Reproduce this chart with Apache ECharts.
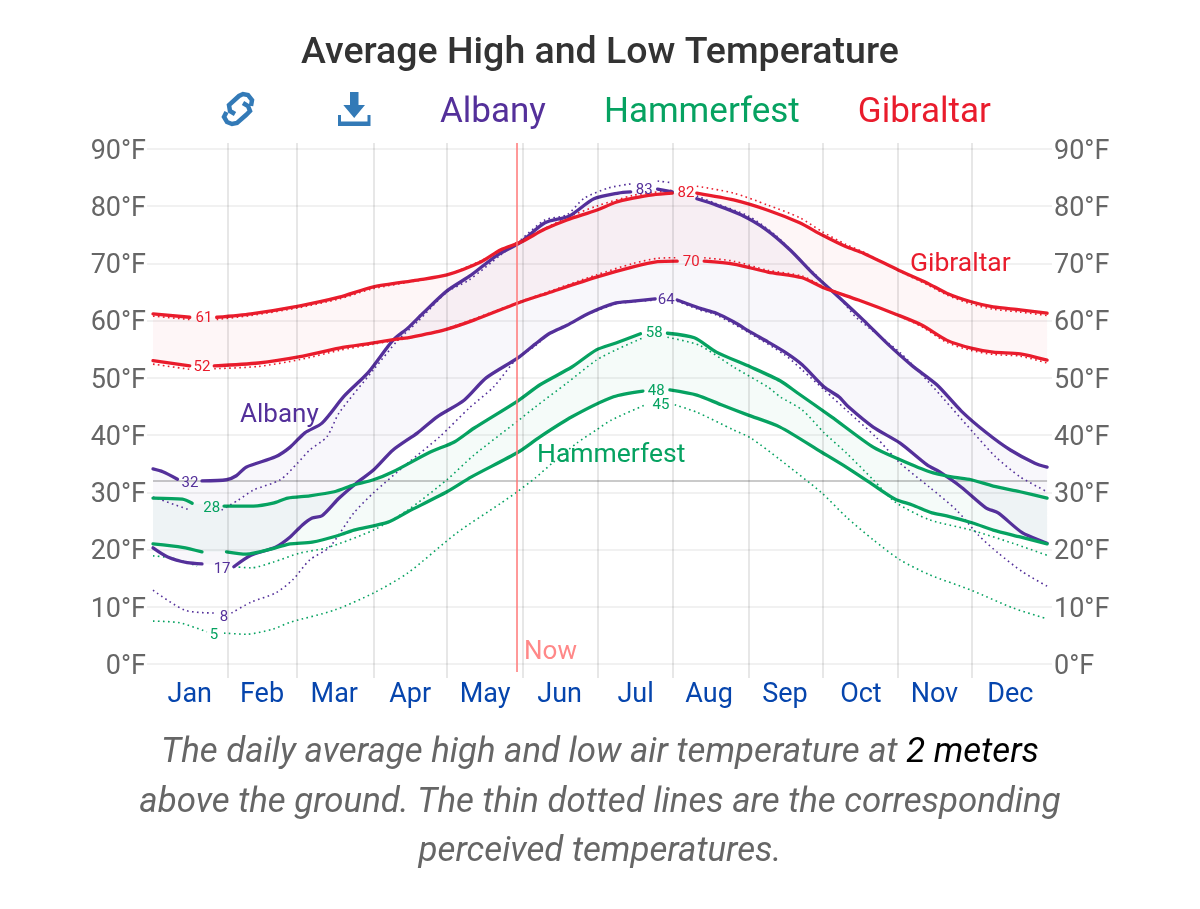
<!DOCTYPE html>
<html><head><meta charset="utf-8">
<style>html,body{margin:0;padding:0;background:#fff}#c{width:1200px;height:909px}</style>
<script src="https://cdn.jsdelivr.net/npm/echarts@6/dist/echarts.min.js"></script>
</head><body><div id="c"></div>
<script>
const months = ['Jan','Feb','Mar','Apr','May','Jun','Jul','Aug','Sep','Oct','Nov','Dec'];
const monthMidDays = [15,44.5,74,105,135.6,166,197,227,258,289,319,350];
const monthStartDays = [30.5,58.5,90,120,151,181.5,212,243,273.6,304,334.4];
const tempTicks = [0,10,20,30,40,50,60,70,80,90];
const nowDay = 148.6;
const freezing = 32;

const albanyHigh = [[0,34.1],[4,33.6],[10,32.3],[15,null],[20,32.0],[30,32.2],[34,32.9],[38,34.4],[50,36.2],[56,37.9],[62,40.4],[69,42.1],[78,46.8],[88,51.0],[98,56.6],[104,58.7],[110,61.2],[120,65.2],[130,68.0],[140,71.3],[150,73.7],[160,77.1],[170,78.3],[180,81.3],[190,82.3],[195,82.5],[200,null],[206,83.0],[212,82.5],[217,null],[222,81.3],[230,80.2],[240,78.5],[250,76.0],[260,72.4],[270,68.0],[280,64.1],[290,60.1],[300,55.9],[310,52.1],[320,48.8],[330,44.2],[340,40.5],[350,37.4],[360,35.1],[365,34.4]];
const albanyLow = [[0,20.3],[6,18.7],[14,17.7],[20,17.5],[26,null],[33,17.0],[40,19.0],[50,20.4],[56,22.2],[61,24.3],[65,25.5],[69,25.9],[76,29.0],[83,31.6],[90,33.9],[98,37.4],[108,40.4],[116,43.2],[127,46.1],[136,50.0],[149,53.5],[156,55.9],[162,57.8],[169,59.2],[178,61.3],[189,63.1],[196,63.4],[205,63.8],[209,null],[214,63.6],[223,62.2],[230,61.3],[237,59.8],[244,58.0],[251,56.3],[258,54.5],[265,52.3],[274,48.4],[280,46.7],[284,44.9],[294,41.4],[305,38.6],[316,34.8],[321,33.6],[330,30.9],[340,27.3],[345,26.4],[355,22.9],[365,21.1]];
const albanyHighFeels = [[0,29.2],[15,26.9],[21,null],[28,26.9],[35,28.7],[41,30.4],[52,32.2],[59,35.1],[64,37.4],[71,39.7],[76,43.9],[90,51.4],[100,56.6],[108,59.8],[120,65.0],[129,67.1],[142,71.5],[150,74.1],[160,77.6],[169,78.5],[176,81.4],[186,83.2],[195,83.9],[200,null],[206,84.4],[212,84.1],[217,null],[222,81.8],[229,80.6],[243,78.3],[254,75.0],[265,70.3],[281,63.6],[287,60.6],[305,54.4],[317,49.1],[335,40.4],[344,36.2],[354,32.7],[365,30.1]];
const albanyLowFeels = [[0,12.9],[13,9.4],[25,8.9],[29,null],[32,8.9],[40,10.8],[50,12.4],[57,14.7],[64,18.2],[72,20.4],[82,26.4],[90,29.9],[104,35.1],[117,39.7],[129,44.7],[139,48.4],[148,53.1],[156,55.6],[162,57.7],[169,59.1],[178,61.2],[189,62.9],[196,63.3],[205,63.6],[209,null],[214,63.4],[223,61.9],[230,61.0],[244,57.7],[258,54.0],[265,51.4],[274,47.9],[284,44.0],[295,39.7],[305,35.1],[317,30.9],[328,26.9],[337,22.5],[345,19.4],[355,16.1],[365,13.6]];

const gibraltarHigh = [[0,61.2],[15,60.6],[21,null],[26,60.6],[40,61.2],[60,62.6],[76,64.1],[90,65.9],[108,67.1],[120,68.0],[134,70.3],[142,72.4],[150,73.7],[160,76.0],[169,77.6],[181,79.3],[189,80.7],[196,81.4],[204,82.0],[212,82.3],[217,null],[222,82.3],[237,81.1],[251,79.3],[264,77.1],[273,75.0],[283,72.9],[290,71.8],[304,68.9],[316,66.6],[324,64.8],[334,63.3],[343,62.4],[354,61.9],[365,61.3]];
const gibraltarLow = [[0,53.0],[15,52.1],[20,null],[25,52.1],[43,52.6],[60,53.7],[76,55.2],[90,56.1],[100,56.8],[105,57.1],[119,58.4],[131,60.1],[149,63.1],[161,64.8],[181,67.6],[196,69.4],[206,70.3],[214,70.4],[220,null],[225,70.4],[237,69.9],[251,68.5],[265,67.5],[274,65.7],[288,63.6],[304,61.0],[314,59.2],[324,56.6],[334,55.2],[343,54.5],[354,54.2],[365,53.1]];
const gibraltarHighFeels = [[0,60.8],[15,60.2],[21,null],[26,60.2],[40,60.9],[60,62.3],[76,63.8],[90,65.6],[108,67.0],[120,68.0],[134,70.5],[150,74.0],[169,78.0],[181,80.0],[196,81.9],[204,82.4],[212,82.8],[217,null],[222,83.5],[237,82.3],[251,80.2],[264,78.0],[273,75.6],[283,73.3],[290,72.0],[304,68.8],[316,66.3],[324,64.5],[334,62.9],[343,62.0],[354,61.5],[365,60.9]];
const gibraltarLowFeels = [[0,52.4],[15,51.5],[20,null],[25,51.6],[43,52.0],[60,53.2],[76,54.8],[90,55.9],[105,57.0],[119,58.5],[131,60.3],[149,63.2],[161,65.0],[181,68.0],[196,70.0],[206,70.9],[214,71.0],[220,null],[225,71.0],[237,70.4],[251,68.8],[265,67.8],[274,65.9],[288,63.6],[304,60.9],[314,58.9],[324,56.2],[334,54.8],[343,54.1],[354,53.8],[365,52.6]];

const hammerfestHigh = [[0,29.0],[12,28.8],[16,28.1],[24,null],[29,27.6],[41,27.6],[49,28.1],[55,29.0],[64,29.4],[74,30.1],[82,31.3],[90,32.2],[98,33.6],[113,37.0],[123,38.8],[131,41.2],[149,46.0],[158,48.8],[171,51.9],[181,54.9],[189,56.1],[199,57.7],[205,null],[210,57.8],[221,57.0],[230,54.5],[244,51.9],[256,49.5],[263,47.4],[277,43.2],[294,37.9],[305,35.7],[317,33.6],[326,32.7],[334,32.2],[343,31.1],[354,30.1],[365,29.0]];
const hammerfestLow = [[0,21.0],[12,20.4],[20,19.6],[25,null],[30,19.6],[38,19.2],[50,20.3],[56,21.0],[65,21.3],[76,22.5],[82,23.4],[96,24.8],[104,26.6],[120,30.1],[130,32.7],[149,37.0],[158,39.7],[171,43.2],[188,46.7],[200,47.7],[205,null],[211,47.9],[222,47.0],[232,45.3],[243,43.5],[256,41.4],[273,37.0],[283,34.4],[294,31.3],[303,28.8],[310,27.8],[318,26.4],[324,25.9],[335,24.6],[343,23.4],[354,22.2],[365,21.0]];
const hammerfestHighFeels = [[0,18.9],[8,18.5],[18,17.1],[26,null],[33,17.0],[40,16.8],[49,17.8],[60,19.4],[71,20.3],[90,23.4],[104,26.9],[120,32.2],[131,36.5],[149,42.5],[156,44.9],[169,49.1],[181,53.1],[189,54.9],[200,57.0],[205,null],[210,57.1],[223,55.7],[237,51.9],[251,48.4],[256,46.7],[265,44.4],[274,40.4],[283,36.9],[294,32.2],[303,28.3],[317,25.2],[334,23.4],[351,21.1],[365,19.0]];
const hammerfestLowFeels = [[0,7.5],[11,7.2],[22,5.6],[25,null],[29,5.4],[38,5.2],[49,6.1],[56,7.3],[74,9.4],[90,12.4],[104,15.9],[124,22.9],[142,28.1],[149,30.2],[156,32.5],[163,35.1],[173,38.6],[181,40.9],[187,42.6],[201,45.3],[207,null],[213,45.3],[222,44.0],[237,40.9],[244,39.5],[256,35.7],[273,29.9],[283,25.7],[294,21.7],[305,18.2],[317,15.6],[334,12.9],[351,9.8],[365,7.9]];

const albanyLabels = [[15.1,31.6,32],[28.2,16.6,17],[29,8.2,8],[200.5,82.8,83],[209.5,63.6,64]];
const gibraltarLabels = [[20.8,60.4,61],[20,51.9,52],[217.6,82.3,82],[219.7,70.2,70]];
const hammerfestLabels = [[24,27.2,28],[24.9,5,5],[204.6,57.8,58],[205.4,47.7,48],[207.4,45.2,45]];

const C = {Albany:'#54309a', Hammerfest:'#06a261', Gibraltar:'#e91c2c'};
const font = 'Roboto';

function solid(name, data){
  return {name, type:'line', data, xAxisIndex:0, yAxisIndex:0, showSymbol:false, symbol:'none', silent:true, z:4, smooth:0.25,
    lineStyle:{color:C[name], width:3.3, cap:'round', join:'round'}, connectNulls:false};
}
function dots(name, data){
  return {name, type:'line', data, xAxisIndex:0, yAxisIndex:0, showSymbol:false, symbol:'none', silent:true, z:3, smooth:0.25,
    lineStyle:{color:C[name], width:1.6, type:[1.6,3.4]}, connectNulls:false};
}
function band(name, hi, lo, alpha, rgb){
  const top = hi.filter(p=>p[1]!==null), bot = lo.filter(p=>p[1]!==null).slice().reverse();
  return {name, type:'custom', xAxisIndex:0, yAxisIndex:0, silent:true, z:1, data:[[0,0]],
    renderItem(params, api){
      const pts = top.concat(bot).map(p=>api.coord(p));
      return {type:'polygon', shape:{points:pts}, style:{fill:`rgba(${rgb},${alpha})`}};
    }};
}
function numberLabels(name, data){
  return {name, type:'scatter', data, xAxisIndex:0, yAxisIndex:0, symbolSize:0, silent:true, z:6,
    itemStyle:{opacity:1},
    label:{show:true, position:'inside', formatter:p=>String(p.value[2]), color:C[name], fontSize:15, fontFamily:font}};
}

const chart = echarts.init(document.getElementById('c'), null, {renderer:'canvas', width:1200, height:909});
const xMin = -2.45, xMax = 367;
const iconBlue = '#337ab7';
chart.setOption({
  animation:false,
  backgroundColor:'#fff',
  title:{text:'Average High and Low Temperature', left:'center', top:30, textStyle:{color:'#333', fontSize:37.5, fontWeight:500, fontFamily:font}},
  legend:{left:430, top:91, itemWidth:0, itemHeight:0, itemGap:53, icon:'none', selectedMode:false,
    data:[
      {name:'Albany', textStyle:{color:C.Albany}},
      {name:'Hammerfest', textStyle:{color:C.Hammerfest}},
      {name:'Gibraltar', textStyle:{color:C.Gibraltar}}],
    textStyle:{fontSize:35, fontFamily:font}},
  grid:[
    {left:147, right:148, top:149, height:515},
    {left:147, right:148, top:143, height:535}
  ],
  xAxis:[
    {gridIndex:0, type:'value', min:xMin, max:xMax, show:false, splitLine:{show:false}},
    {gridIndex:1, type:'value', min:xMin, max:xMax, position:'bottom',
      axisLine:{show:false}, axisTick:{show:false}, splitLine:{show:false},
      axisLabel:{customValues:monthMidDays, margin:4, color:'#0645ad', fontSize:27, fontFamily:font, hideOverlap:false,
        formatter:v=>months[monthMidDays.indexOf(v)]}}
  ],
  yAxis:[
    {gridIndex:0, type:'value', min:0, max:90, interval:10, position:'left',
      axisLine:{show:false}, axisTick:{show:false},
      axisLabel:{margin:1, verticalAlign:'top', lineHeight:6, color:'#666', fontSize:27, fontFamily:font, formatter:v=>tempTicks.includes(v)?v+'°F':''},
      splitLine:{show:true, lineStyle:{color:'rgba(0,0,0,0.055)', width:2}}},
    {gridIndex:0, type:'value', min:0, max:90, interval:10, position:'right',
      axisLine:{show:false}, axisTick:{show:false}, splitLine:{show:false},
      axisLabel:{margin:2, verticalAlign:'top', lineHeight:6, color:'#666', fontSize:27, fontFamily:font, formatter:v=>v+'°F'}},
    {gridIndex:1, type:'value', min:-2.45, max:91.05, show:false, splitLine:{show:false}}
  ],
  series:[
    {name:'months', type:'line', data:[], xAxisIndex:1, yAxisIndex:2, silent:true, z:0, symbol:'none',
      markLine:{silent:true, symbol:'none', label:{show:false}, animation:false,
        lineStyle:{color:'rgba(0,0,0,0.12)', width:1.6, type:'solid'},
        data:monthStartDays.map(d=>({xAxis:d}))}},
    band('Gibraltar', gibraltarHigh, gibraltarLow, 0.04, '233,28,44'),
    band('Albany', albanyHigh, albanyLow, 0.04, '84,48,154'),
    band('Hammerfest', hammerfestHigh, hammerfestLow, 0.04, '6,162,97'),
    {name:'freezing', type:'line', data:[[0,freezing],[365,freezing]], xAxisIndex:0, yAxisIndex:0, symbol:'none', silent:true, z:2,
      lineStyle:{color:'rgba(0,0,0,0.28)', width:1.5}},
    dots('Albany', albanyHighFeels), dots('Albany', albanyLowFeels),
    dots('Hammerfest', hammerfestHighFeels), dots('Hammerfest', hammerfestLowFeels),
    dots('Gibraltar', gibraltarHighFeels), dots('Gibraltar', gibraltarLowFeels),
    solid('Albany', albanyHigh), solid('Albany', albanyLow),
    solid('Hammerfest', hammerfestHigh), solid('Hammerfest', hammerfestLow),
    solid('Gibraltar', gibraltarHigh), solid('Gibraltar', gibraltarLow),
    {name:'Now', type:'line', data:[[nowDay,-1.4],[nowDay,91.05]], xAxisIndex:1, yAxisIndex:2, symbol:'none', silent:true, z:5,
      lineStyle:{color:'#f77', width:1.5}},
    numberLabels('Albany', albanyLabels), numberLabels('Gibraltar', gibraltarLabels), numberLabels('Hammerfest', hammerfestLabels)
  ],
  graphic:[
    {type:'text', x:240, y:415, style:{text:'Albany', fill:C.Albany, font:'26px '+font, textVerticalAlign:'middle'}, z:7},
    {type:'text', x:537, y:455, style:{text:'Hammerfest', fill:C.Hammerfest, font:'26.5px '+font, textVerticalAlign:'middle'}, z:7},
    {type:'text', x:910, y:264, style:{text:'Gibraltar', fill:C.Gibraltar, font:'26.5px '+font, textVerticalAlign:'middle'}, z:7},
    {type:'text', x:524, y:652, style:{text:'Now', fill:'#f88', font:'26px '+font, textVerticalAlign:'middle'}, z:7},
    {type:'polygon', x:338, y:92, z:7, shape:{points:[[12,0],[20.5,0],[20.5,13],[27,13],[16.2,26],[5.3,13],[12,13]]}, style:{fill:iconBlue}},
    {type:'polygon', x:338, y:92, z:7, shape:{points:[[0,23],[3,23],[3,29.5],[29.5,29.5],[29.5,23],[32.5,23],[32.5,34],[0,34]]}, style:{fill:iconBlue}},
    {type:'polyline', x:221, y:92, z:7, shape:{points:[[30,14],[31,8],[27,3],[22,2],[18,4],[8,13],[9,19],[14,22]]}, style:{fill:'none', stroke:iconBlue, lineWidth:4.5}},
    {type:'polyline', x:221, y:92, z:7, shape:{points:[[5.5,20],[3,25],[6,30],[11,32],[16,31],[25,23],[29,19],[27,14],[22,11]]}, style:{fill:'none', stroke:iconBlue, lineWidth:4.5}},
    {type:'text', x:600, y:753, z:7, style:{align:'center', verticalAlign:'middle', text:'{a|The daily average high and low air temperature at }{b|2 meters}',
      rich:{a:{fill:'#666', font:'italic 34.8px '+font}, b:{fill:'#000', font:'italic 34.8px '+font}}}},
    {type:'text', x:600, y:803, z:7, style:{align:'center', verticalAlign:'middle', text:'above the ground. The thin dotted lines are the corresponding', fill:'#666', font:'italic 34.8px '+font}},
    {type:'text', x:600, y:852, z:7, style:{align:'center', verticalAlign:'middle', text:'perceived temperatures.', fill:'#666', font:'italic 34.8px '+font}}
  ]
});
</script></body></html>
